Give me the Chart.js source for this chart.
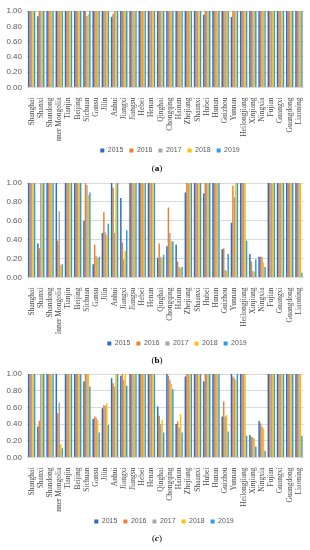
<!DOCTYPE html>
<html><head><meta charset="utf-8">
<script src="https://cdn.jsdelivr.net/npm/chart.js@4"></script>
<style>
body{margin:0;background:#fff;width:310px;height:550px;position:relative;overflow:hidden}
.panel{position:absolute;left:0;width:310px}
.cap{position:absolute;left:0;width:310px;text-align:center;font-family:"Liberation Serif",serif;font-size:9px;line-height:9px;color:#000}
</style></head><body>
<div class="panel" style="top:0;height:164px"><canvas id="ca"></canvas></div>
<div class="cap" style="top:164px;left:2px">(<b>a</b>)</div>
<div class="panel" style="top:170px;height:187px"><canvas id="cb"></canvas></div>
<div class="cap" style="top:356px;left:2px">(<b>b</b>)</div>
<div class="panel" style="top:362px;height:173px"><canvas id="cc"></canvas></div>
<div class="cap" style="top:534px;left:2px">(<b><i>c</i></b>)</div>
<script>
const provinces = ["Shanghai","Shanxi","Shandong","Inner Mongolia","Tianjin","Beijing","Sichuan","Gansu","Jilin","Anhui","Jiangxi","Jiangsu","Hebei","Henan","Qinghai","Chongqing","Hainan","Zhejiang","Shaanxi","Hubei","Hunan","Guizhou","Yunnan","Heilongjiang","Xinjiang","Ningxia","Fujian","Guangxi","Guangdong","Liaoning"];
const years = ["2015","2016","2017","2018","2019"];
const yTicks = [0,0.1,0.2,0.3,0.4,0.5,0.6,0.7,0.8,0.9,1.0];

// Panel (a)
const a2015 = [1,0.93,1,1,1,1,1,1,1,0.92,1,1,1,1,1,1,1,1,1,0.95,1,1,0.92,1,1,1,1,1,1,1];
const a2016 = [1,1,1,1,1,1,1,1,1,0.96,1,1,1,1,1,1,1,1,1,1,1,1,1,1,1,1,1,1,1,1];
const a2017 = [1,1,1,1,1,1,0.93,1,1,1,1,1,1,1,1,1,1,1,1,1,1,1,1,1,1,1,1,1,1,1];
const a2018 = [1,1,1,1,1,1,0.96,1,1,1,1,1,1,1,1,1,1,1,1,1,1,1,1,1,1,1,1,1,1,1];
const a2019 = [1,1,1,1,1,1,1,1,1,1,1,1,1,1,1,1,1,1,1,1,1,1,1,1,1,1,1,1,1,1];

// Panel (b)
const b2015 = [1,0.36,1,1,1,1,0.60,0.14,0.47,1,0.84,1,1,1,0.21,0.33,0.35,0.90,1,0.89,1,0.30,0.58,1,0.25,0.22,1,1,1,1];
const b2016 = [1,0.31,1,0.39,1,1,1,0.35,0.69,0.95,0.37,1,1,1,0.36,0.74,0.17,1,1,1,1,0.31,0.97,1,0.17,0.22,1,1,1,1];
const b2017 = [1,1,1,0.70,1,1,0.98,0.23,0.48,0.47,0.19,1,1,1,0.22,0.47,0.11,1,1,1,1,0.08,0.85,1,0.07,0.22,1,1,1,1];
const b2018 = [1,1,1,0.13,1,1,0.87,0.21,0.45,1,0.28,1,1,1,0.21,0.39,0.10,1,1,1,1,0.07,1,1,0.06,0.16,1,1,1,1];
const b2019 = [1,1,1,0.14,1,1,0.90,0.22,0.57,1,0.50,1,1,1,0.24,0.38,0.11,1,1,1,1,0.25,1,0.39,0.19,0.11,1,1,1,0.05];

// Panel (c)
const c2015 = [1,0.37,1,1,1,1,0.91,0.46,0.59,0.95,0.98,1,1,1,0.61,1,0.40,0.97,1,0.91,1,0.49,1,1,0.27,0.44,1,1,1,1];
const c2016 = [1,0.44,1,0.53,1,1,1,0.49,0.63,0.89,1,1,1,1,0.50,0.98,0.43,1,1,1,1,0.67,0.97,1,0.25,0.41,1,1,1,1];
const c2017 = [1,1,1,0.66,1,1,1,0.48,0.62,0.85,0.93,1,1,1,0.40,0.93,0.36,1,1,1,1,0.49,0.95,1,0.24,0.37,1,1,1,1];
const c2018 = [1,1,1,0.16,1,1,1,0.45,0.65,1,1,1,1,1,0.45,0.88,0.52,1,1,1,1,0.51,0.93,1,0.23,0.35,1,1,1,1];
const c2019 = [1,1,1,0.11,1,1,0.85,0.30,0.39,1,0.86,1,1,1,0.30,0.82,0.30,1,1,1,1,0.31,1,0.26,0.13,0.08,1,1,1,0.26];

const colors = ["#2A6CC6","#F07E2E","#A5A5A5","#FFC000","#2A9DE0"];

const shiftLegend = {
  id: 'shiftLegend',
  afterLayout(chart, args, opts) {
    const l = chart.legend;
    if (l && opts.dx) { l.left += opts.dx; l.right += opts.dx; }
  }
};

function makeChart(id, series, padTop, xHeight, dx) {
  return new Chart(document.getElementById(id), {
    type: 'bar',
    data: {
      labels: provinces,
      datasets: years.map((y, i) => ({
        label: y,
        data: series[i],
        backgroundColor: colors[i],
        borderWidth: 0,
        categoryPercentage: 0.8,
        barPercentage: 1.0
      }))
    },
    options: {
      responsive: true,
      maintainAspectRatio: false,
      animation: false,
      devicePixelRatio: 1,
      layout: { padding: { top: padTop, left: 0, right: 4, bottom: 0 } },
      plugins: {
        legend: {
          position: 'bottom',
          labels: { boxWidth: 4, boxHeight: 4, padding: 6, color: '#595959',
                    font: { family: 'Liberation Sans', size: 7 } }
        },
        tooltip: { enabled: false },
        shiftLegend: { dx: dx }
      },
      scales: {
        x: {
          grid: { display: false },
          border: { color: '#d9d9d9' },
          ticks: { autoSkip: false, minRotation: 90, maxRotation: 90, padding: 2,
                   color: '#4d4d4d', font: { family: 'Liberation Serif', size: 7.5 } },
          afterFit: s => { s.height = xHeight; }
        },
        y: {
          min: 0, max: 1,
          grid: { color: '#d9d9d9', drawTicks: false },
          border: { display: false },
          afterBuildTicks: s => { s.ticks = yTicks.map(v => ({ value: v })); },
          ticks: { padding: 5, color: '#595959', font: { family: 'Liberation Sans', size: 8 },
                   callback: v => Number(v).toFixed(2) },
          afterFit: s => { s.width = 27; }
        }
      }
    },
    plugins: [shiftLegend]
  });
}

makeChart('ca', [a2015,a2016,a2017,a2018,a2019], 11, 53.5, 17);
makeChart('cb', [b2015,b2016,b2017,b2018,b2019], 13, 56.5, 24);
makeChart('cc', [c2015,c2016,c2017,c2018,c2019], 12, 54.5, 11);
</script>
</body></html>
